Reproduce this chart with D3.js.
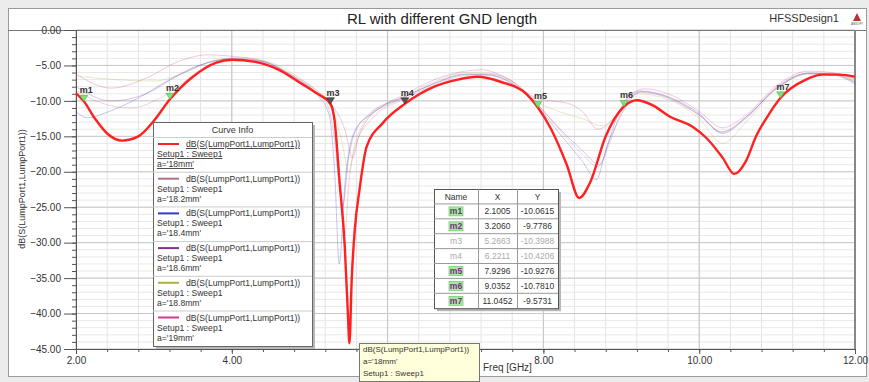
<!DOCTYPE html>
<html>
<head>
<meta charset="utf-8">
<script src="https://cdn.jsdelivr.net/npm/d3@7"></script>
<style>
  body { margin: 0; background: #ececec; }
  svg { display: block; font-family: "Liberation Sans", Arial, sans-serif; }
  .axis path { stroke: #555; }
  .axis line { stroke: #555; }
  .axis text { fill: #333; font-size: 10px; }
</style>
</head>
<body>
<div id="chart"></div>
<script>
// ---- data ----
var sizes = ["18mm", "18.2mm", "18.4mm", "18.6mm", "18.8mm", "19mm"];
var colors = ["#ff2020", "#b0708a", "#3535d0", "#803090", "#a8b040", "#e03090"];

var f18 = [2.0, 2.1005, 2.25, 2.4, 2.59, 2.8, 3.0, 3.206, 3.5, 3.8, 4.0, 4.3, 4.6, 4.87, 5.1, 5.2663, 5.32, 5.38, 5.45, 5.49, 5.51, 5.54, 5.58, 5.64, 5.73, 5.94, 6.2211, 6.6, 6.9, 7.15, 7.45, 7.78, 7.9296, 8.1, 8.3, 8.46, 8.6, 8.8, 9.0352, 9.2, 9.4, 9.62, 9.91, 10.09, 10.3, 10.45, 10.6, 10.73, 10.9, 11.0452, 11.37, 11.58, 11.8, 12.0];
var db18 = [-8.9, -10.06, -12.6, -14.6, -15.6, -15.0, -12.8, -9.78, -6.6, -4.6, -4.2, -4.5, -5.6, -7.4, -9.0, -10.4, -12.8, -21, -30.5, -40, -44.2, -35, -28, -22.5, -16.5, -13.1, -10.42, -8.0, -7.0, -6.6, -7.3, -9.0, -10.93, -14, -19, -23.7, -21.5, -15, -10.78, -9.9, -10.6, -12.2, -13.6, -15.2, -18, -20.3, -18.5, -15.0, -11.8, -9.57, -7.0, -6.3, -6.3, -6.6];

var f182 = [2.0, 2.3, 2.7, 3.1, 3.5, 3.9, 4.2, 4.6, 5.0, 5.2, 5.3, 5.38, 5.45, 5.5, 5.6, 5.8, 6.2, 6.6, 7.0, 7.3, 7.6, 7.93, 8.2, 8.5, 8.7, 8.85, 9.0, 9.25, 9.6, 10.0, 10.3, 10.6, 11.0, 11.4, 11.7, 12.0];
var db182 = [-8.5, -10.2, -11.0, -9.5, -6.5, -4.4, -4.2, -5.5, -8.2, -10.0, -14, -22, -29, -22, -16, -12.5, -9.8, -7.8, -6.4, -6.2, -7.2, -10.5, -14, -17.5, -19.3, -16, -11.5, -8.8, -9.6, -12, -14.4, -12.5, -8, -6.1, -6.2, -7.3];

var f184 = [2.0, 2.15, 2.4, 2.8, 3.2, 3.6, 4.0, 4.4, 4.8, 5.1, 5.25, 5.32, 5.38, 5.45, 5.55, 5.75, 6.2, 6.6, 7.0, 7.3, 7.6, 7.93, 8.2, 8.5, 8.68, 8.8, 9.0, 9.25, 9.6, 10.0, 10.3, 10.6, 11.0, 11.4, 11.7, 12.0];
var db184 = [-11.5, -12.4, -11.6, -9.6, -7.0, -4.9, -4.1, -4.5, -6.8, -9.2, -12, -20, -33, -22, -15, -12, -9.5, -7.6, -6.3, -6.4, -7.6, -10.8, -14.5, -18.5, -21.1, -17, -11, -8.6, -9.4, -11.8, -14.6, -12.3, -8.2, -6.2, -6.3, -7.6];

var f186 = [2.0, 2.45, 2.9, 3.3, 3.7, 4.0, 4.4, 4.8, 5.1, 5.28, 5.36, 5.42, 5.5, 5.6, 5.8, 6.2, 6.6, 7.0, 7.3, 7.6, 7.93, 8.2, 8.5, 8.72, 8.85, 9.05, 9.25, 9.6, 10.0, 10.28, 10.6, 11.0, 11.4, 11.7, 12.0];
var db186 = [-8.0, -10.0, -9.0, -6.5, -4.6, -4.0, -4.4, -6.6, -8.9, -11, -17, -25, -18, -14, -11.8, -9.6, -7.5, -6.2, -6.3, -7.5, -10.6, -13.8, -17, -19, -15.5, -11, -8.7, -9.5, -12, -14.4, -12.3, -8.1, -6.1, -6.2, -7.4];

var f188 = [2.0, 2.5, 3.0, 3.4, 3.8, 4.1, 4.5, 4.9, 5.15, 5.3, 5.42, 5.5, 5.58, 5.7, 5.9, 6.2, 6.6, 7.0, 7.3, 7.6, 7.93, 8.2, 8.5, 8.75, 8.95, 9.2, 9.6, 10.0, 10.3, 10.6, 11.0, 11.4, 11.7, 12.0];
var db188 = [-6.5, -7.0, -7.2, -6.0, -4.2, -3.9, -4.6, -7.0, -9.2, -11.5, -16, -20, -16, -13, -11, -9.4, -7.3, -6.0, -6.1, -7.3, -10.2, -11.5, -12.5, -13.5, -12, -9, -9.8, -12.5, -16.0, -13, -8.3, -6.1, -6.1, -7.2];

var f19 = [2.0, 2.45, 2.9, 3.3, 3.7, 4.0, 4.4, 4.8, 5.1, 5.3, 5.45, 5.55, 5.63, 5.75, 5.95, 6.2, 6.6, 7.0, 7.2, 7.5, 7.93, 8.1, 8.3, 8.5, 8.7, 8.9, 9.1, 9.3, 9.6, 10.0, 10.3, 10.6, 11.0, 11.4, 11.7, 12.0];
var db19 = [-6.2, -8.2, -6.8, -4.5, -3.5, -3.7, -4.4, -6.5, -8.6, -10.8, -14, -18, -15, -12.5, -10.6, -9.2, -7.0, -5.8, -5.6, -6.6, -9.7, -10, -10.3, -11.5, -14, -12.5, -9.3, -8.3, -9.0, -11.5, -13.8, -12, -7.8, -5.8, -6.0, -7.0];

var markerNames = ["m1", "m2", "m3", "m4", "m5", "m6", "m7"];
var markerX = [2.1005, 3.2060, 5.2663, 6.2211, 7.9296, 9.0352, 11.0452];
var markerY = [-10.0615, -9.7786, -10.3988, -10.4206, -10.9276, -10.7810, -9.5731];
var markerDim = [false, false, true, true, false, false, false];

var xMajor = [2, 4, 6, 8, 10, 12];
var xHidden = [6]; // label sits under the tooltip in the original
var yMajor = [0, -5, -10, -15, -20, -25, -30, -35, -40, -45];

var curves = [[f18, db18], [f182, db182], [f184, db184], [f186, db186], [f188, db188], [f19, db19]];

// ---- drawing ----
var W = 869, H = 382;
var svg = d3.select("#chart").append("svg").attr("width", W).attr("height", H);

svg.append("rect").attr("x", 8.5).attr("y", 8.5).attr("width", 858).attr("height", 368)
  .attr("fill", "#fff").attr("stroke", "#9a9a9a");

var x = d3.scaleLinear().domain([2, 12]).range([76, 855]);
var y = d3.scaleLinear().domain([-45, 0]).range([349, 30]);

// grid
var g = svg.append("g");
g.selectAll(".vmin").data(d3.range(2, 12.001, 0.4)).enter().append("line")
  .attr("x1", function (d) { return x(d); }).attr("x2", function (d) { return x(d); })
  .attr("y1", y(0)).attr("y2", y(-45)).attr("stroke", "#e4e4e4");
g.selectAll(".hmin").data(d3.range(-45, 0.001, 1)).enter().append("line")
  .attr("y1", function (d) { return y(d); }).attr("y2", function (d) { return y(d); })
  .attr("x1", x(2)).attr("x2", x(12)).attr("stroke", "#e8e8e8");
g.selectAll(".vmaj").data(xMajor).enter().append("line")
  .attr("x1", function (d) { return x(d); }).attr("x2", function (d) { return x(d); })
  .attr("y1", y(0)).attr("y2", y(-45)).attr("stroke", "#c4c4c4");
g.selectAll(".hmaj").data(yMajor).enter().append("line")
  .attr("y1", function (d) { return y(d); }).attr("y2", function (d) { return y(d); })
  .attr("x1", x(2)).attr("x2", x(12)).attr("stroke", "#c8c8c8");

// plot frame
svg.append("line").attr("x1", 8).attr("x2", 866).attr("y1", y(0) + 0.5).attr("y2", y(0) + 0.5).attr("stroke", "#777");
svg.append("line").attr("x1", x(12)).attr("x2", x(12)).attr("y1", y(0)).attr("y2", y(-45)).attr("stroke", "#888").attr("stroke-width", 2);

// axes
var fmt = d3.format(".2f");
svg.append("g").attr("class", "axis").attr("transform", "translate(" + x(2) + ",0)")
  .call(d3.axisLeft(y).tickValues(d3.range(-45, 0.001, 1)).tickSize(4).tickFormat(""))
  .call(function (s) { s.select(".domain").remove(); });
svg.append("g").attr("class", "axis").attr("transform", "translate(" + x(2) + ",0)")
  .call(d3.axisLeft(y).tickValues(yMajor).tickSize(12).tickPadding(3).tickFormat(fmt))
  .call(function (s) { s.select(".domain").attr("stroke", "#555"); });
svg.append("g").attr("class", "axis").attr("transform", "translate(0," + y(-45) + ")")
  .call(d3.axisBottom(x).tickValues(d3.range(2, 12.001, 0.4)).tickSize(3).tickFormat(""))
  .call(function (s) { s.select(".domain").remove(); });
svg.append("g").attr("class", "axis").attr("transform", "translate(0," + y(-45) + ")")
  .call(d3.axisBottom(x).tickValues(xMajor).tickSize(5).tickPadding(3)
    .tickFormat(function (d) { return xHidden.indexOf(d) >= 0 ? "" : fmt(d); }))
  .call(function (s) { s.select(".domain").attr("stroke", "#555"); });

// curves
var line = d3.line()
  .x(function (d) { return x(d[0]); })
  .y(function (d) { return y(d[1]); })
  .curve(d3.curveMonotoneX);

for (var i = curves.length - 1; i >= 0; i--) {
  var pts = d3.zip(curves[i][0], curves[i][1]);
  svg.append("path").datum(pts).attr("d", line)
    .attr("fill", "none")
    .attr("stroke", colors[i])
    .attr("stroke-width", i === 0 ? 2.4 : 1)
    .attr("stroke-opacity", i === 0 ? 1 : 0.28);
}

// markers
var mk = svg.append("g");
markerNames.forEach(function (n, k) {
  var px = x(markerX[k]), py = y(markerY[k]);
  mk.append("path")
    .attr("d", "M" + (px - 4) + "," + (py - 6) + "L" + (px + 4) + "," + (py - 6) + "L" + px + "," + py + "Z")
    .attr("fill", markerDim[k] ? "#555" : "#7ee07e")
    .attr("stroke", markerDim[k] ? "#333" : "#4cb84c").attr("stroke-width", 0.6);
  mk.append("text").attr("x", px - 4).attr("y", py - 8)
    .attr("font-size", 9).attr("font-weight", "bold").attr("fill", "#333").text(n);
});

// axis titles
svg.append("text").attr("transform", "translate(25,189) rotate(-90)")
  .attr("text-anchor", "middle").attr("font-size", 9).attr("fill", "#333")
  .text("dB(S(LumpPort1,LumpPort1))");
svg.append("text").attr("x", 483).attr("y", 371).attr("text-anchor", "start")
  .attr("font-size", 10).attr("fill", "#333").text("Freq [GHz]");

// title
svg.append("text").attr("x", 442).attr("y", 24).attr("text-anchor", "middle")
  .attr("font-size", 15).attr("fill", "#222").text("RL with different GND length");
svg.append("text").attr("x", 839).attr("y", 22).attr("text-anchor", "end")
  .attr("font-size", 11).attr("fill", "#333").text("HFSSDesign1");
svg.append("path").attr("d", "M857,13L861,21L853,21Z").attr("fill", "#c03030");
svg.append("text").attr("x", 857).attr("y", 25).attr("text-anchor", "middle")
  .attr("font-size", 3).attr("fill", "#555").text("ANSOFT");

// legend
var lg = svg.append("g");
var lx = 153, ly = 122, lw = 159, entryH = 34.7;
lg.append("rect").attr("x", lx + 3).attr("y", ly + 3).attr("width", lw).attr("height", 224).attr("fill", "#b8b8b8");
lg.append("rect").attr("x", lx + 0.5).attr("y", ly + 0.5).attr("width", lw).attr("height", 224)
  .attr("fill", "#fff").attr("stroke", "#666");
lg.append("text").attr("x", lx + lw / 2).attr("y", ly + 11).attr("text-anchor", "middle")
  .attr("font-size", 9).attr("fill", "#333").text("Curve Info");
sizes.forEach(function (s, k) {
  var ey = ly + 15 + k * entryH;
  lg.append("line").attr("x1", lx).attr("x2", lx + lw).attr("y1", ey + 0.5).attr("y2", ey + 0.5).attr("stroke", "#ccc");
  lg.append("line").attr("x1", lx + 5).attr("x2", lx + 26).attr("y1", ey + 7).attr("y2", ey + 7)
    .attr("stroke", colors[k]).attr("stroke-width", 2);
  var deco = k === 0 ? "underline" : null;
  lg.append("text").attr("x", lx + 33).attr("y", ey + 10).attr("font-size", 8.6).attr("fill", "#333")
    .attr("text-decoration", deco).text("dB(S(LumpPort1,LumpPort1))");
  lg.append("text").attr("x", lx + 4).attr("y", ey + 20).attr("font-size", 8.6).attr("fill", "#333")
    .attr("text-decoration", deco).text("Setup1 : Sweep1");
  lg.append("text").attr("x", lx + 4).attr("y", ey + 30).attr("font-size", 8.6).attr("fill", "#333")
    .attr("text-decoration", deco).text("a='" + s + "'");
});

// marker table
var tb = svg.append("g");
var tx = 434, ty = 189, rowH = 14.9, colX = [434, 478, 517, 558];
var rows = 1 + markerNames.length;
tb.append("rect").attr("x", tx + 3).attr("y", ty + 3).attr("width", colX[3] - tx).attr("height", rows * rowH).attr("fill", "#b8b8b8");
tb.append("rect").attr("x", tx + 0.5).attr("y", ty + 0.5).attr("width", colX[3] - tx).attr("height", rows * rowH)
  .attr("fill", "#fff").attr("stroke", "#555");
for (var r = 1; r < rows; r++) {
  tb.append("line").attr("x1", tx).attr("x2", colX[3]).attr("y1", ty + r * rowH).attr("y2", ty + r * rowH).attr("stroke", "#999");
}
[1, 2].forEach(function (c) {
  tb.append("line").attr("x1", colX[c] + 0.5).attr("x2", colX[c] + 0.5).attr("y1", ty).attr("y2", ty + rows * rowH).attr("stroke", "#999");
});
["Name", "X", "Y"].forEach(function (h, c) {
  tb.append("text").attr("x", (colX[c] + colX[c + 1]) / 2).attr("y", ty + 10.5).attr("text-anchor", "middle")
    .attr("font-size", 8.5).attr("fill", "#333").text(h);
});
markerNames.forEach(function (n, k) {
  var ry = ty + (k + 1) * rowH;
  var col = markerDim[k] ? "#aaa" : "#333";
  if (!markerDim[k]) {
    tb.append("rect").attr("x", 449).attr("y", ry + 3).attr("width", 14).attr("height", 9)
      .attr("fill", "#a8e8a0").attr("stroke", "#60c060").attr("stroke-width", 0.6);
  }
  tb.append("text").attr("x", 456).attr("y", ry + 10.5).attr("text-anchor", "middle").attr("font-size", 8.5)
    .attr("fill", markerDim[k] ? "#aaa" : "#7a2a8a").attr("font-weight", markerDim[k] ? null : "bold").text(n);
  tb.append("text").attr("x", (colX[1] + colX[2]) / 2).attr("y", ry + 10.5).attr("text-anchor", "middle")
    .attr("font-size", 8.5).attr("fill", col).text(markerX[k].toFixed(4));
  tb.append("text").attr("x", (colX[2] + colX[3]) / 2).attr("y", ry + 10.5).attr("text-anchor", "middle")
    .attr("font-size", 8.5).attr("fill", col).text(markerY[k].toFixed(4));
});

// tooltip
var tt = svg.append("g");
tt.append("rect").attr("x", 359.5).attr("y", 343.5).attr("width", 120).attr("height", 38)
  .attr("fill", "#ffffdc").attr("stroke", "#777");
["dB(S(LumpPort1,LumpPort1))", "a='18mm'", "Setup1 : Sweep1"].forEach(function (t, k) {
  tt.append("text").attr("x", 363).attr("y", 352 + k * 12).attr("font-size", 8).attr("fill", "#333").text(t);
});
</script>
</body>
</html>
